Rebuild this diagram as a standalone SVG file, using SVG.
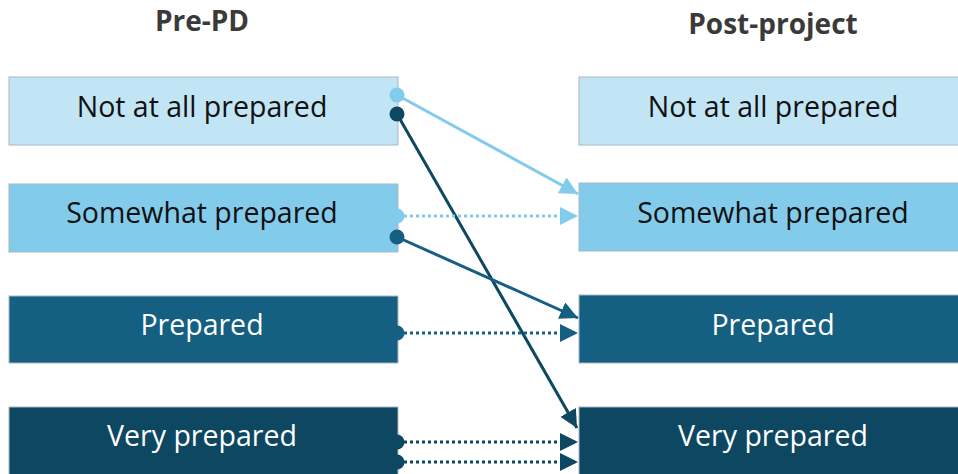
<svg xmlns="http://www.w3.org/2000/svg" width="958" height="474" viewBox="0 0 958 474">
<style>
.box{stroke:#A9B7C1;stroke-width:1}
.c1{fill:#C1E5F5}.c2{fill:#83CBEB}.c3{fill:#156082}.c4{fill:#0E4761}
.t{font-family:"Open Sans","Liberation Sans",sans-serif;font-size:28.5px;text-anchor:middle}
.dk{fill:#111111}.lt{fill:#FFFFFF}
.h{font-family:"Open Sans","Liberation Sans",sans-serif;font-size:28px;font-weight:bold;fill:#3A3A3A;text-anchor:middle}
.ln{fill:none;stroke-width:3}
.dot{stroke-dasharray:3 3}
</style>
<defs>
<marker id="a1" viewBox="0 0 10 10" refX="10" refY="5" markerWidth="6" markerHeight="6" orient="auto" markerUnits="strokeWidth"><path d="M0,0L10,5L0,10z" fill="#83CBEB"/></marker>
<marker id="a3" viewBox="0 0 10 10" refX="10" refY="5" markerWidth="6" markerHeight="6" orient="auto" markerUnits="strokeWidth"><path d="M0,0L10,5L0,10z" fill="#156082"/></marker>
<marker id="a4" viewBox="0 0 10 10" refX="10" refY="5" markerWidth="6" markerHeight="6" orient="auto" markerUnits="strokeWidth"><path d="M0,0L10,5L0,10z" fill="#0E4761"/></marker>
</defs>
<text class="h" x="202" y="31">Pre-PD</text>
<text class="h" x="773" y="34">Post-project</text>
<g id="pre-not"><rect class="box c1" x="9" y="77" width="389" height="68"/><text class="t dk" x="202" y="117">Not at all prepared</text></g>
<g id="pre-somewhat"><rect class="box c2" x="9" y="184" width="389" height="68"/><text class="t dk" x="202" y="223">Somewhat prepared</text></g>
<g id="pre-prepared"><rect class="box c3" x="9" y="296" width="389" height="67"/><text class="t lt" x="202" y="335">Prepared</text></g>
<g id="pre-very"><rect class="box c4" x="9" y="407" width="389" height="68"/><text class="t lt" x="202" y="446">Very prepared</text></g>
<g id="post-not"><rect class="box c1" x="579" y="77" width="380" height="68"/><text class="t dk" x="773" y="117">Not at all prepared</text></g>
<g id="post-somewhat"><rect class="box c2" x="579" y="183" width="380" height="68"/><text class="t dk" x="773" y="223">Somewhat prepared</text></g>
<g id="post-prepared"><rect class="box c3" x="579" y="295" width="380" height="68"/><text class="t lt" x="773" y="335">Prepared</text></g>
<g id="post-very"><rect class="box c4" x="579" y="407" width="380" height="68"/><text class="t lt" x="773" y="446">Very prepared</text></g>
<g id="connectors">
<line class="ln" stroke="#83CBEB" x1="397" y1="95" x2="578" y2="194" marker-end="url(#a1)"/>
<circle cx="397" cy="95" r="7.5" fill="#83CBEB"/>
<line class="ln" stroke="#0E4761" x1="397" y1="114" x2="577" y2="428" marker-end="url(#a4)"/>
<circle cx="397" cy="114" r="7.5" fill="#0E4761"/>
<line class="ln dot" stroke="#83CBEB" x1="404" y1="216" x2="578" y2="216" marker-end="url(#a1)"/>
<circle cx="397" cy="216" r="7.5" fill="#83CBEB"/>
<line class="ln" stroke="#156082" x1="397" y1="237" x2="578" y2="318" marker-end="url(#a3)"/>
<circle cx="397" cy="237" r="7.5" fill="#156082"/>
<line class="ln dot" stroke="#156082" x1="404" y1="333" x2="578" y2="333" marker-end="url(#a3)"/>
<circle cx="397" cy="333" r="7.5" fill="#156082"/>
<line class="ln dot" stroke="#0E4761" x1="404" y1="442" x2="578" y2="442" marker-end="url(#a4)"/>
<circle cx="397" cy="442" r="7.5" fill="#0E4761"/>
<line class="ln dot" stroke="#0E4761" x1="404" y1="462" x2="578" y2="462" marker-end="url(#a4)"/>
<circle cx="397" cy="462" r="7.5" fill="#0E4761"/>
</g>
</svg>
